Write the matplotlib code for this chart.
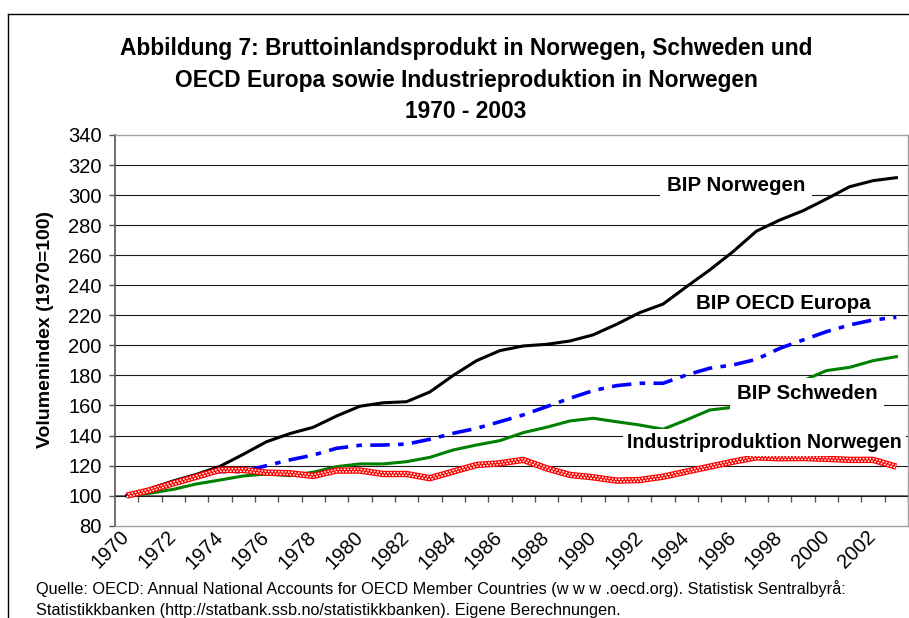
import matplotlib
matplotlib.use("Agg")
import matplotlib.pyplot as plt
from matplotlib.lines import Line2D
from matplotlib.transforms import offset_copy

plt.rcParams['font.family'] = ['Liberation Sans', 'DejaVu Sans']
plt.rcParams['lines.scale_dashes'] = False

years = list(range(1970, 2004))
bip_norwegen = [100.0, 104.6, 109.8, 114.2, 119.5, 127.5, 135.9, 141.3, 145.5, 153.0,
                159.5, 161.8, 162.5, 169.0, 180.0, 189.8, 196.5, 199.6, 200.7, 202.9,
                207.0, 214.0, 221.8, 227.5, 239.0, 250.2, 262.4, 276.0, 283.4, 289.6,
                297.4, 305.6, 309.6, 311.6]
bip_oecd_europa = [100.0, 103.4, 107.8, 113.5, 116.0, 116.0, 120.0, 123.8, 127.0, 131.5,
                   133.5, 133.7, 134.3, 137.5, 141.5, 144.8, 149.2, 153.7, 159.2, 164.8,
                   169.9, 173.2, 174.8, 174.8, 180.3, 184.8, 187.0, 190.7, 198.0, 203.6,
                   209.1, 213.6, 216.9, 218.7]
bip_schweden = [100.0, 101.6, 104.2, 107.8, 110.4, 113.1, 114.4, 113.3, 115.6, 119.3,
                121.1, 121.1, 122.6, 125.5, 130.4, 133.7, 136.6, 141.9, 145.5, 149.7,
                151.5, 149.2, 147.0, 144.2, 150.4, 157.0, 158.8, 162.5, 168.5, 176.5,
                183.2, 185.4, 189.8, 192.5]
industrie_norwegen = [100.0, 103.6, 108.2, 112.6, 117.1, 117.1, 115.3, 114.9, 113.1, 116.7,
                      116.7, 114.4, 114.4, 111.6, 116.0, 120.4, 121.5, 123.8, 118.2, 113.8,
                      112.2, 110.0, 110.4, 112.6, 116.0, 119.3, 122.6, 125.5, 124.9, 125.0,
                      124.5, 123.8, 123.8, 119.3]
x_tick_labels = [str(y) for y in years[::2]]
y_ticks = list(range(80, 341, 20))

title_lines = ["Abbildung 7: Bruttoinlandsprodukt in Norwegen, Schweden und",
               "OECD Europa sowie Industrieproduktion in Norwegen",
               "1970 - 2003"]
y_label = "Volumenindex (1970=100)"
source_lines = ["Quelle: OECD: Annual National Accounts for OECD Member Countries (w w w .oecd.org). Statistisk Sentralbyrå:",
                "Statistikkbanken (http://statbank.ssb.no/statistikkbanken). Eigene Berechnungen."]

W, H = 909, 618
fig = plt.figure(figsize=(W / 100, H / 100), dpi=100)
ax = fig.add_axes([115 / W, 1 - 525.7 / H, 793 / W, 390.7 / H])

xs = list(range(len(years)))
ax.set_xlim(-0.5, len(years) - 0.5)
ax.set_ylim(80, 340)

# gridlines
for v in y_ticks[1:-1]:
    ax.axhline(v, color='#1a1a1a', lw=0.8, zorder=1)

# series
ax.plot(xs, bip_norwegen, color='black', lw=2.2, zorder=4, solid_joinstyle='round')
ax.plot(xs, bip_oecd_europa, color='#0000FF', lw=2.6, zorder=4,
        dashes=(14, 6, 4, 6), dash_capstyle='butt')
ax.plot(xs, bip_schweden, color='#008000', lw=2.2, zorder=3)
ax.plot(xs, industrie_norwegen, color='#FF0000', lw=4.6, zorder=5, solid_capstyle='butt')
up = offset_copy(ax.transData, fig=fig, x=0, y=0.9, units='points')
dn = offset_copy(ax.transData, fig=fig, x=0, y=-0.9, units='points')
ax.plot(xs, industrie_norwegen, color='white', lw=1.1, zorder=6, transform=up,
        dashes=(0, 1.2, 1.2, 0), dash_capstyle='butt')
ax.plot(xs, industrie_norwegen, color='white', lw=1.1, zorder=6, transform=dn,
        dashes=(1.2, 1.2), dash_capstyle='butt')

# spines / borders
for s in ['top', 'right', 'bottom']:
    ax.spines[s].set_color('#a0a0a0')
    ax.spines[s].set_linewidth(1.0)
ax.spines['left'].set_color('#555555')
ax.spines['left'].set_linewidth(1.2)

ax.set_yticks(y_ticks)
ax.set_yticklabels([str(v) for v in y_ticks], fontsize=14.5)
ax.tick_params(axis='y', direction='out', length=4.5, width=1, color='#555555', pad=5)

ax.set_xticks(xs[::2])
ax.set_xticklabels(x_tick_labels, fontsize=14.5, rotation=45, ha='right',
                   va='center', rotation_mode='anchor')
ax.tick_params(axis='x', length=0, pad=6)

# x axis line crossing at 100 with tick marks between categories
sec = ax.secondary_xaxis((100 - 80) / (340 - 80))
sec.set_xticks([i + 0.5 for i in xs])
sec.set_xticklabels([''] * len(xs))
sec.tick_params(direction='out', length=4, width=1, color='#555555')
sec.spines['bottom'].set_color('#555555')
sec.spines['bottom'].set_linewidth(1.2)

# series labels
box = dict(boxstyle='square,pad=0.32', fc='white', ec='none')
lab_fs = 14.8
ax.text(26.13, 306.7, "BIP Norwegen", fontsize=lab_fs, fontweight='bold',
        ha='center', va='center', zorder=8, bbox=box)
ax.text(28.16, 228.1, "BIP OECD Europa", fontsize=lab_fs, fontweight='bold',
        ha='center', va='center', zorder=8)
ax.text(29.17, 167.7, "BIP Schweden", fontsize=lab_fs, fontweight='bold',
        ha='center', va='center', zorder=8, bbox=box)
ax.text(21.45, 135.1, "Industriproduktion Norwegen", fontsize=14.1, fontweight='bold',
        ha='left', va='center', zorder=8,
        bbox=dict(boxstyle='square,pad=0.2', fc='white', ec='none'), clip_on=False)

# y label
fig.text(46 / W, 1 - 330 / H, y_label, rotation=90, fontsize=14, fontweight='bold',
         ha='center', va='center')

# title
for txt, yc in zip(title_lines, [48, 80, 111]):
    fig.text(466 / W, 1 - yc / H, txt, fontsize=16.4, fontweight='bold',
             ha='center', va='center')

# source
for txt, yc in zip(source_lines, [589, 610]):
    fig.text(36 / W, 1 - yc / H, txt, fontsize=11.7, ha='left', va='center')

# outer frame
fig.add_artist(Line2D([8 / W, 1], [1 - 14 / H, 1 - 14 / H], color='black', lw=1,
                      transform=fig.transFigure))
fig.add_artist(Line2D([8 / W, 8 / W], [0, 1 - 14 / H], color='black', lw=1,
                      transform=fig.transFigure))

fig.savefig("out.png", dpi=100)
